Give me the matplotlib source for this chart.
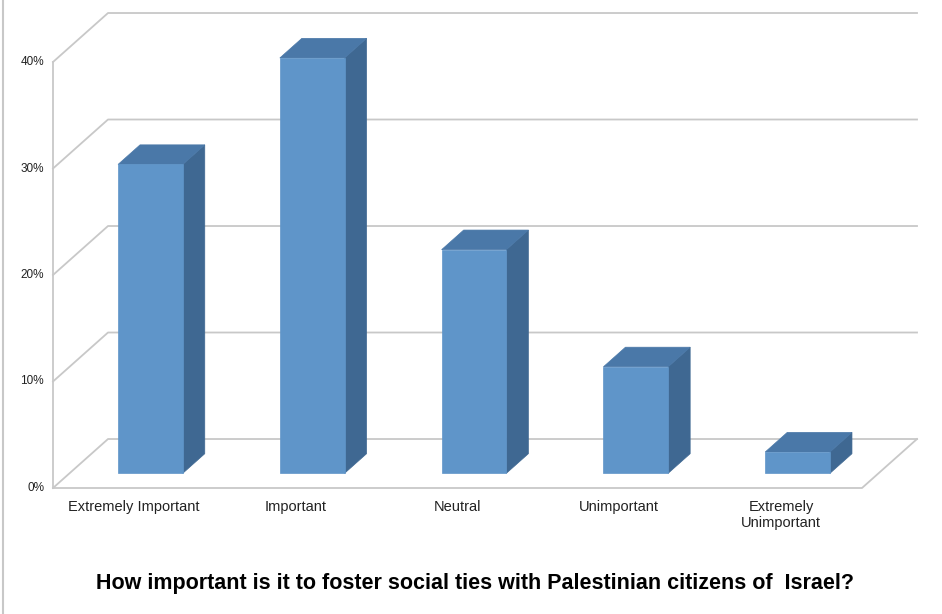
import matplotlib.pyplot as plt
from matplotlib.patches import Polygon
from matplotlib.lines import Line2D

categories = ["Extremely Important", "Important", "Neutral", "Unimportant",
              "Extremely\nUnimportant"]
shares = [29, 39, 21, 10, 2]
y_ticks = [0, 10, 20, 30, 40]
tick_labels = ["0%", "10%", "20%", "30%", "40%"]
title = "How important is it to foster social ties with Palestinian citizens of  Israel?"

# fake 3D: depth d in [0, 1] shifts a point right and up
DEPTH_X = 0.34   # in category units
DEPTH_Y = 4.6    # in percent units
BAR_W = 0.40
BAR_D0, BAR_D1 = 0.3, 0.7

FRONT = "#5f95c9"
TOP = "#4a78a8"
SIDE = "#3f6892"
GRID = "#c8c8c8"


def proj(x, y, d):
    return (x + d * DEPTH_X, y + d * DEPTH_Y)


plt.rcParams["font.family"] = ["Liberation Sans", "DejaVu Sans"]

fig = plt.figure(figsize=(9.42, 6.14), dpi=100)
ax = fig.add_axes([53 / 942, 1 - 488 / 614, 809 / 942, 426 / 614])
ax.set_xlim(0, len(categories))
ax.set_ylim(0, 40)
ax.axis("off")

n = len(categories)

# walls and gridlines
for t in y_ticks:
    pts = [proj(0, t, 0), proj(0, t, 1), proj(n, t, 1)]
    ax.plot([p[0] for p in pts], [p[1] for p in pts], color=GRID, lw=1.3,
            clip_on=False, zorder=1)
ax.plot([0, 0], [0, 40], color=GRID, lw=1.3, clip_on=False, zorder=1)
floor = [proj(0, 0, 0), proj(n, 0, 0), proj(n, 0, 1)]
ax.plot([p[0] for p in floor], [p[1] for p in floor], color=GRID, lw=1.3,
        clip_on=False, zorder=1)

# bars
for i, v in enumerate(shares):
    x0 = i + 0.5 - BAR_W / 2
    x1 = x0 + BAR_W
    front = [proj(x0, 0, BAR_D0), proj(x1, 0, BAR_D0), proj(x1, v, BAR_D0), proj(x0, v, BAR_D0)]
    top = [proj(x0, v, BAR_D0), proj(x1, v, BAR_D0), proj(x1, v, BAR_D1), proj(x0, v, BAR_D1)]
    side = [proj(x1, 0, BAR_D0), proj(x1, 0, BAR_D1), proj(x1, v, BAR_D1), proj(x1, v, BAR_D0)]
    for poly, c in [(side, SIDE), (top, TOP), (front, FRONT)]:
        ax.add_patch(Polygon(poly, closed=True, facecolor=c, edgecolor=c, lw=0.5,
                             clip_on=False, zorder=3))

# tick labels
for t, lab in zip(y_ticks, tick_labels):
    ax.text(-0.055, t, lab, ha="right", va="center", fontsize=8.5, color="#222222")

for i, lab in enumerate(categories):
    ax.text(i + 0.5, -1.1, lab, ha="center", va="top", fontsize=10.5,
            color="#222222", linespacing=1.25)

fig.text(475 / 942, 1 - 583 / 614, title, ha="center", va="center",
         fontsize=15.5, fontweight="bold", color="black")

# frame line on the left edge
fig.add_artist(Line2D([3 / 942, 3 / 942], [0, 1], color="#c8c8c8", lw=1.5))

fig.savefig("out.png", dpi=100)
